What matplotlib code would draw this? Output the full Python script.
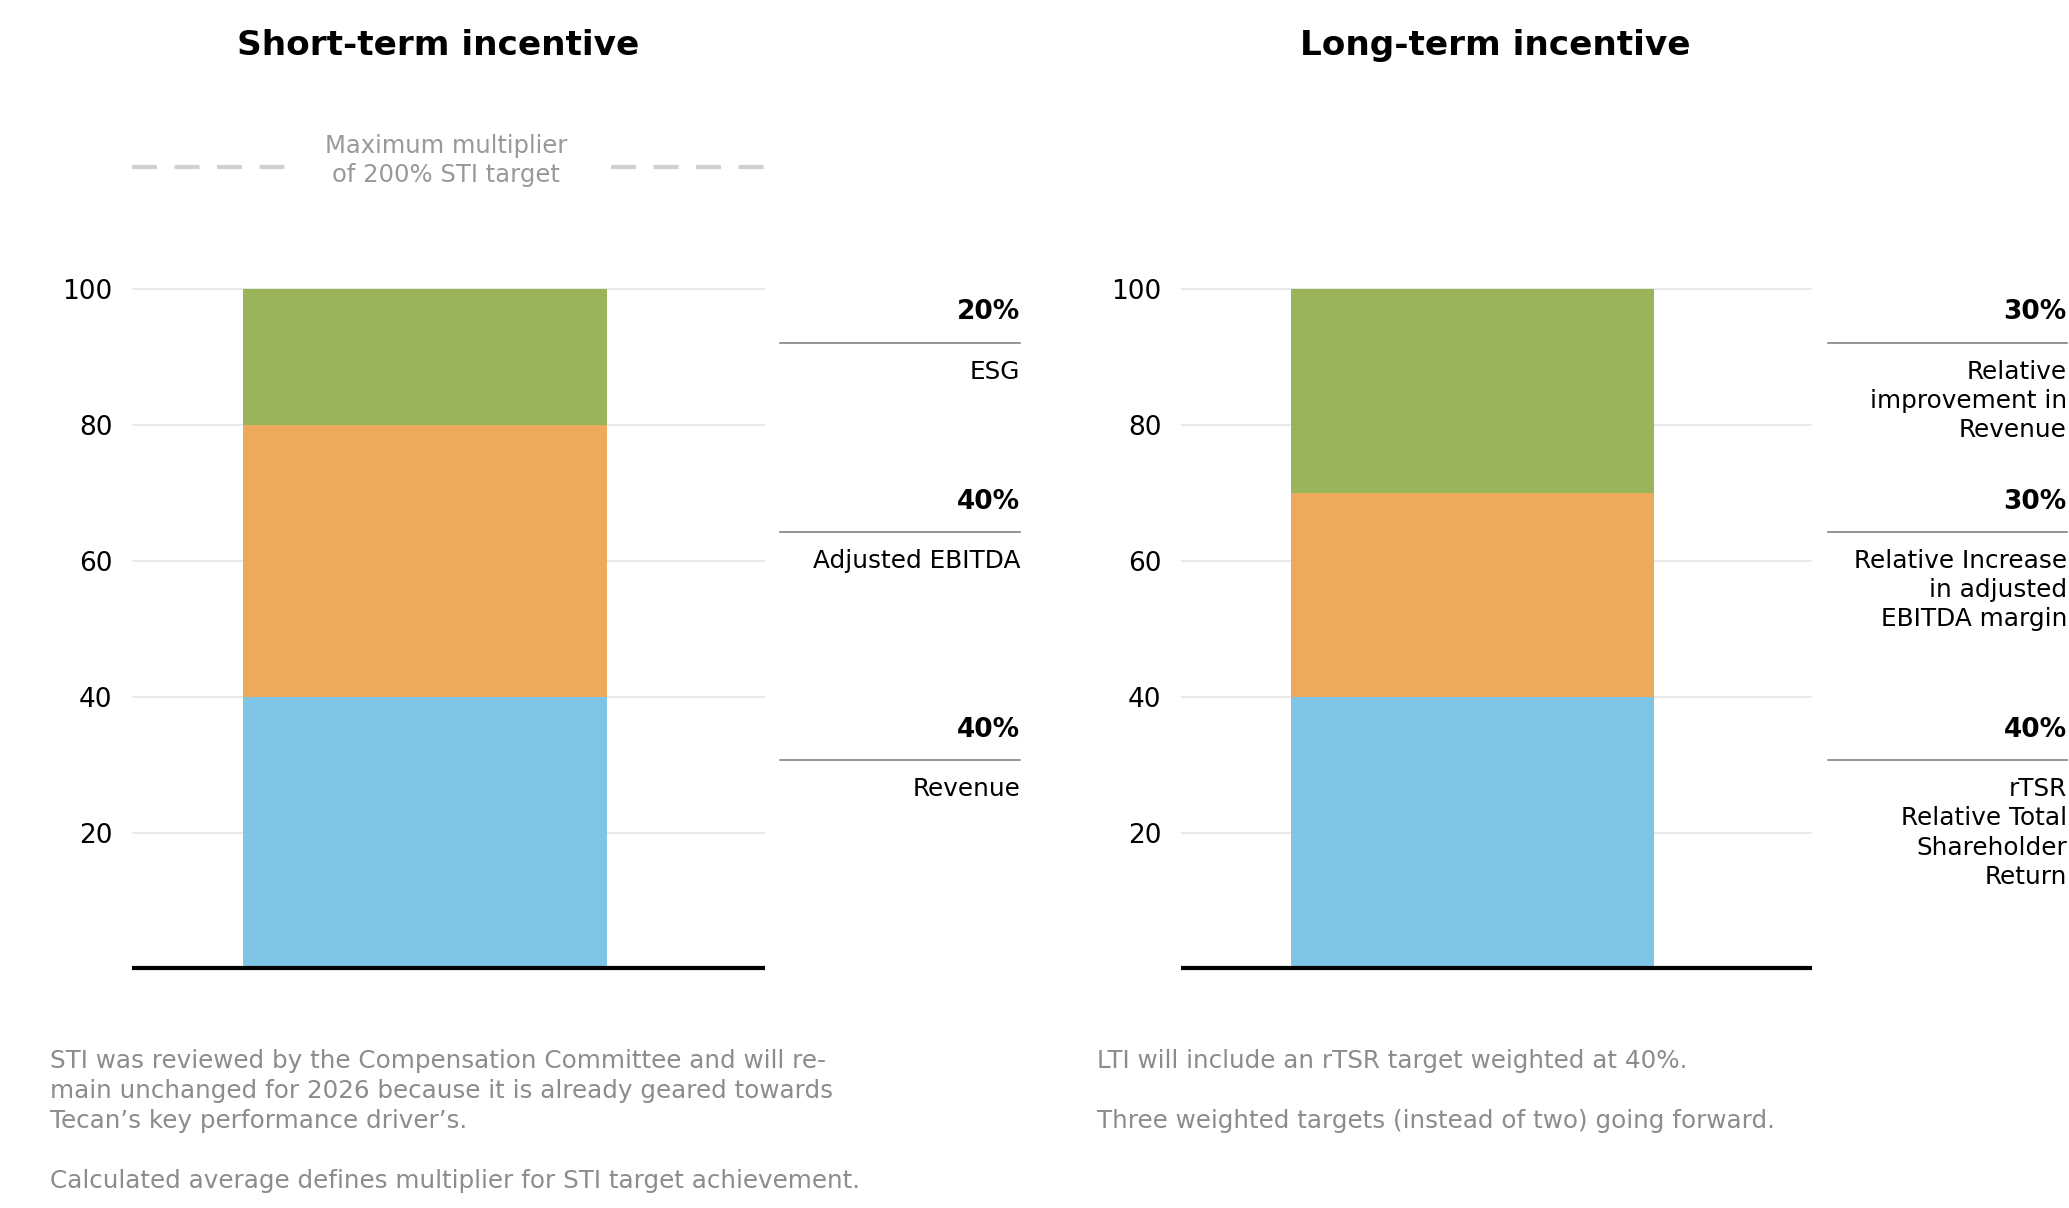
import matplotlib
matplotlib.use("Agg")
import matplotlib.pyplot as plt
from matplotlib.lines import Line2D

plt.rcParams['font.family'] = ['DejaVu Sans']

# data
sti_parts = [['Revenue'], ['Adjusted EBITDA'], ['ESG']]
sti_values = [40, 40, 20]
lti_parts = [['rTSR', 'Relative Total', 'Shareholder', 'Return'],
             ['Relative Increase', 'in adjusted', 'EBITDA margin'],
             ['Relative', 'improvement in', 'Revenue']]
lti_values = [40, 30, 30]
seg_colors = ['#7EC4E4', '#EDA95C', '#9AB559']
y_ticks = [20, 40, 60, 80, 100]
max_line = 118

sti_note = ["STI was reviewed by the Compensation Committee and will re-",
            "main unchanged for 2026 because it is already geared towards",
            "Tecan\u2019s key performance driver\u2019s.",
            "",
            "Calculated average defines multiplier for STI target achievement."]
lti_note = ["LTI will include an rTSR target weighted at 40%.",
            "",
            "Three weighted targets (instead of two) going forward."]

gray_txt = '#8c8c8c'
H = 915.5  # reference height in layout units


def fy(d):
    return 1 - d / H


fig = plt.figure(figsize=(20.69, 12.08), dpi=100)

ax_l = fig.add_axes([0.0638, 0.1983, 0.3061, 0.7031])
ax_r = fig.add_axes([0.5708, 0.1983, 0.3049, 0.7031])


def draw_bar(ax, values):
    bottom = 0
    for v, c in zip(values, seg_colors):
        ax.bar(0, v, width=0.575, bottom=bottom, color=c, zorder=2)
        bottom += v
    ax.set_xlim(-0.4625, 0.5375)
    ax.set_ylim(0, 125)
    ax.set_yticks(y_ticks)
    ax.set_xticks([])
    ax.tick_params(axis='y', length=0, pad=14, labelsize=19)
    for s in ax.spines.values():
        s.set_visible(False)
    ax.grid(axis='y', color='#e3e3e3', lw=1.1, zorder=0)
    ax.axhline(0, color='black', lw=3.0, zorder=3, clip_on=False,
               solid_capstyle='butt')


draw_bar(ax_l, sti_values)
draw_bar(ax_r, lti_values)

# max multiplier dashed line
for a, b in [(0, 0.246), (0.756, 1)]:
    ax_l.axhline(max_line, xmin=a, xmax=b, color='#d0d0d0', lw=3,
                 dashes=(6, 4.2), zorder=1)
fig.text(0.2156, fy(116), 'Maximum multiplier', ha='center', va='baseline',
         fontsize=17.5, color='#999999')
fig.text(0.2156, fy(138), 'of 200% STI target', ha='center', va='baseline',
         fontsize=17.5, color='#999999')

# titles
fig.text(0.2117, fy(42), 'Short-term incentive', ha='center', va='baseline',
         fontsize=24.7, fontweight='bold')
fig.text(0.7226, fy(42), 'Long-term incentive', ha='center', va='baseline',
         fontsize=24.7, fontweight='bold')

# side labels
pct_base = [558.4, 385.5, 242]
line_y = [576, 403, 260]
lab_base = [603.2, 430.2, 287]
step = 22.2


def side_labels(x0, x1, parts, values):
    for i in range(len(values)):
        fig.text(x1, fy(pct_base[i]), f'{values[i]}%', ha='right', va='baseline',
                 fontsize=19, fontweight='bold')
        fig.add_artist(Line2D([x0, x1], [fy(line_y[i])] * 2,
                              transform=fig.transFigure, color='#777777', lw=1.1))
        for j, s in enumerate(parts[i]):
            fig.text(x1, fy(lab_base[i] + j * step), s, ha='right', va='baseline',
                     fontsize=17.8)


side_labels(0.3769, 0.4930, sti_parts, sti_values)
side_labels(0.8833, 0.9990, lti_parts, lti_values)

# notes
for j, s in enumerate(sti_note):
    fig.text(0.0242, fy(809.3 + j * 22.8), s, ha='left', va='baseline',
             fontsize=17.7, color=gray_txt)
for j, s in enumerate(lti_note):
    fig.text(0.530, fy(809.3 + j * 22.8), s, ha='left', va='baseline',
             fontsize=17.7, color=gray_txt)

fig.savefig('out.png', dpi=100)
